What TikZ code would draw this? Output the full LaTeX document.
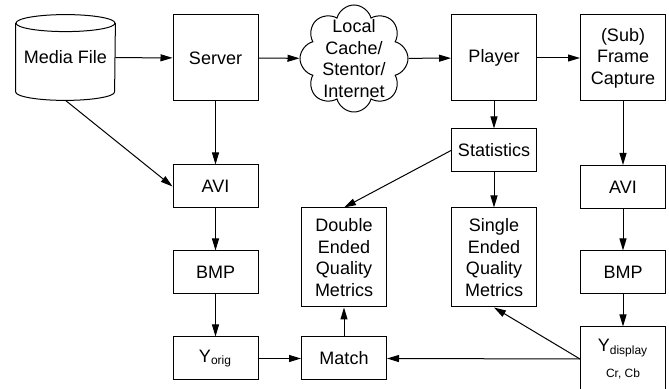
\documentclass[tikz,border=0pt]{standalone}
\usepackage{fontspec}
\setmainfont{Liberation Sans}
\usetikzlibrary{shapes.symbols,arrows.meta}

\tikzset{
  blk/.style={draw, line width=0.5pt, minimum width=42.5pt, inner sep=1pt,
              align=center, font=\fontsize{9}{10.8}\selectfont},
  tallblk/.style={blk, minimum height=43pt},
  shortblk/.style={blk, minimum height=21.5pt},
  metricblk/.style={blk, minimum height=49.5pt},
  flow/.style={line width=0.5pt, -{Triangle[length=6pt,width=3.5pt]}}
}

\begin{document}
\begin{tikzpicture}[x=0.5pt, y=-0.5pt]
  \useasboundingbox (0,0) rectangle (669,389);
  \clip (0,0) rectangle (669,389);

  % top row
  \node[minimum width=49.5pt, minimum height=34pt, inner sep=0pt,
        font=\fontsize{9}{10.8}\selectfont] (medfile) at (65.5,57.5)
        {\raisebox{-2.75pt}{Media File}};
  \draw[line width=0.5pt] (medfile.north west) -- (medfile.south west)
     arc[start angle=180, end angle=360, x radius=24.75pt, y radius=4.25pt]
     -- (medfile.north east);
  \draw[line width=0.5pt] (medfile.north) ellipse [x radius=24.75pt, y radius=4.25pt];
  \coordinate (medbot) at ([yshift=-4.25pt]medfile.south);

  \node[tallblk] (server) at (215.5,58) {Server};
  \node[cloud, draw, line width=0.5pt, cloud puffs=8, aspect=1,
        shape border rotate=22.5,
        minimum width=54pt, minimum height=53.5pt, inner sep=0pt,
        label={[align=center, font=\fontsize{9}{10.8}\selectfont]center:Local\\Cache/\\Stentor/\\Internet}]
        (cache) at (354,58.5) {};
  \node[tallblk] (player) at (494,58) {Player};
  \node[tallblk] (capture) at (623,58) {(Sub)\\Frame\\Capture};

  % original side
  \node[shortblk] (aviorig) at (215.5,186.5) {AVI};
  \node[shortblk] (bmporig) at (215.5,272.5) {BMP};
  \node[shortblk] (yorig) at (215.5,358.5) {Y\textsubscript{orig}};

  % metrics
  \node[shortblk] (stats) at (494,150.5) {Statistics};
  \node[metricblk] (dequal) at (344,257.5) {Double\\Ended\\Quality\\Metrics};
  \node[metricblk] (squal) at (494,257.5) {Single\\Ended\\Quality\\Metrics};
  \node[shortblk] (match) at (344,358.5) {Match};

  % display side
  \node[shortblk] (avidisp) at (623,187) {AVI};
  \node[shortblk] (bmpdisp) at (623,272.5) {BMP};
  \node[blk, minimum height=32pt] (ydisp) at (623,359)
       {Y\textsubscript{display}\\[2pt]{\fontsize{6}{7}\selectfont Cr, Cb}};

  \draw[flow] (medfile) -- (server);
  \draw[flow] (server) -- (cache);
  \draw[flow] (cache) -- (player);
  \draw[flow] (player) -- (capture);

  \draw[flow] (medbot) -- (aviorig.west);
  \draw[flow] (server) -- (aviorig);
  \draw[flow] (aviorig) -- (bmporig);
  \draw[flow] (bmporig) -- (yorig);
  \draw[flow] (yorig) -- (match);
  \draw[flow] (match) -- (dequal);

  \draw[flow] (player) -- (stats);
  \draw[flow] (stats.west) -- (dequal.north);
  \draw[flow] (stats) -- (squal);

  \draw[flow] (capture) -- (avidisp);
  \draw[flow] (avidisp) -- (bmpdisp);
  \draw[flow] (bmpdisp) -- (ydisp);
  \draw[flow] (ydisp.west) -- (match.east);
  \draw[flow] (ydisp.west) -- (squal.south);
\end{tikzpicture}
\end{document}
